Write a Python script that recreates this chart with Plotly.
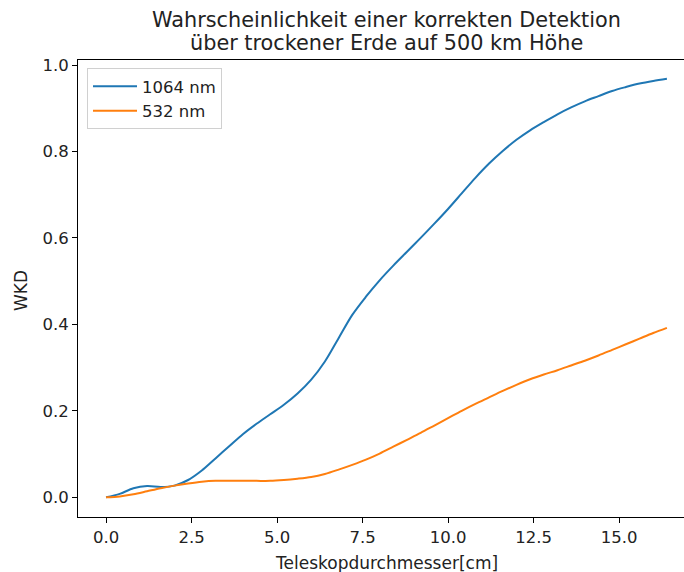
import plotly.graph_objects as go

# Telescope diameter in cm
durchmesser = [0.0, 0.4, 0.8, 1.2, 1.6, 2.0, 2.4, 2.8, 3.2, 3.6, 4.0, 4.4, 4.8, 5.2,
               5.6, 6.0, 6.4, 6.8, 7.2, 7.6, 8.0, 8.4, 8.8, 9.2, 9.6, 10.0, 10.4,
               10.8, 11.2, 11.6, 12.0, 12.4, 12.8, 13.2, 13.6, 14.0, 14.4, 14.8,
               15.2, 15.6, 16.0, 16.4]

# Probability of correct detection per wavelength
wkd_1064 = [0.000, 0.008, 0.021, 0.026, 0.024, 0.027, 0.040, 0.062, 0.090, 0.118,
            0.146, 0.170, 0.192, 0.214, 0.240, 0.272, 0.314, 0.368, 0.422, 0.464,
            0.502, 0.536, 0.568, 0.600, 0.633, 0.667, 0.703, 0.739, 0.772, 0.801,
            0.827, 0.849, 0.868, 0.886, 0.902, 0.916, 0.928, 0.940, 0.949, 0.957,
            0.963, 0.968]
wkd_532 = [0.000, 0.002, 0.007, 0.014, 0.021, 0.027, 0.032, 0.036, 0.038, 0.038,
           0.038, 0.038, 0.038, 0.040, 0.043, 0.047, 0.054, 0.064, 0.075, 0.087,
           0.101, 0.117, 0.133, 0.149, 0.166, 0.183, 0.200, 0.216, 0.231, 0.246,
           0.260, 0.273, 0.284, 0.294, 0.305, 0.316, 0.328, 0.341, 0.354, 0.367,
           0.380, 0.392]

x_ticks = [0.0, 2.5, 5.0, 7.5, 10.0, 12.5, 15.0]
y_ticks = [0.0, 0.2, 0.4, 0.6, 0.8, 1.0]

title_lines = ["Wahrscheinlichkeit einer korrekten Detektion",
               "über trockener Erde auf 500 km Höhe"]

FONT = "DejaVu Sans"
TXT = "#222"

fig = go.Figure()
fig.add_trace(go.Scatter(x=durchmesser, y=wkd_1064, mode="lines", name="1064 nm",
                         line=dict(color="#1f77b4", width=2, shape="spline",
                                   smoothing=0.9)))
fig.add_trace(go.Scatter(x=durchmesser, y=wkd_532, mode="lines", name="532 nm",
                         line=dict(color="#ff7f0e", width=2, shape="spline",
                                   smoothing=0.9)))

axis_common = dict(
    showgrid=False, zeroline=False, showline=True, linecolor="black", linewidth=1,
    ticks="outside", ticklen=5, tickwidth=1, tickcolor="black",
    tickfont=dict(family=FONT, size=16.5, color=TXT),
)

# plot area in pixels: x 78..684, y 60..517
L, R, T, B = 78, 684, 60, 517
PW, PH = R - L, B - T

fig.update_layout(
    width=684, height=572,
    margin=dict(l=L, r=684 - R, t=T, b=572 - B),
    paper_bgcolor="white", plot_bgcolor="white",
    font=dict(family=FONT, color=TXT),
    xaxis=dict(range=[-0.82, 16.90], tickvals=x_ticks, tickformat=".1f",
               mirror=True, **axis_common),
    yaxis=dict(range=[-0.0456, 1.0116], tickvals=y_ticks, tickformat=".1f",
               **axis_common),
    legend=dict(
        x=(87 - L) / PW, y=(B - 68) / PH, xanchor="left", yanchor="top",
        bgcolor="rgba(255,255,255,0.8)", bordercolor="#d0d0d0", borderwidth=1,
        itemwidth=44, tracegroupgap=0,
        font=dict(family=FONT, size=16.5, color=TXT),
    ),
    showlegend=True,
)

# Two-line title centred over the axes
for line, yc in zip(title_lines, [20, 43]):
    fig.add_annotation(text=line, xref="paper", yref="paper",
                       x=(386 - L) / PW, y=(B - yc) / PH, xanchor="center",
                       yanchor="middle", showarrow=False,
                       font=dict(family=FONT, size=20.8, color=TXT))

fig.add_annotation(text="Teleskopdurchmesser[cm]", xref="paper", yref="paper",
                   x=(386 - L) / PW, y=-(563 - B) / PH, xanchor="center",
                   yanchor="middle", showarrow=False,
                   font=dict(family=FONT, size=17, color=TXT))
fig.add_annotation(text="WKD", xref="paper", yref="paper",
                   x=-(L - 21) / PW, y=(B - 291) / PH, xanchor="center",
                   yanchor="middle", textangle=-90, showarrow=False,
                   font=dict(family=FONT, size=17, color=TXT))

fig.write_html("out.html")
